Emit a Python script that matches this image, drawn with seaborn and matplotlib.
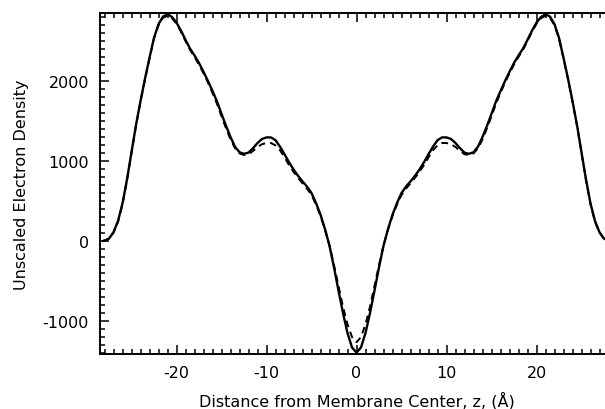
import matplotlib
matplotlib.use("Agg")
import matplotlib.pyplot as plt
import seaborn as sns
import pandas as pd
from matplotlib.ticker import MultipleLocator

# Distance from membrane center (Å)
z = [-28.2, -28.0, -27.5, -27.0, -26.5, -26.0, -25.5, -25.0, -24.5, -24.0,
     -23.5, -23.0, -22.5, -22.0, -21.5, -21.0, -20.5, -20.0, -19.5, -19.0,
     -18.5, -18.0, -17.5, -17.0, -16.5, -16.0, -15.5, -15.0, -14.5, -14.0,
     -13.5, -13.0, -12.5, -12.0, -11.5, -11.0, -10.5, -10.0, -9.5, -9.0,
     -8.5, -8.0, -7.5, -7.0, -6.5, -6.0, -5.5, -5.0, -4.5, -4.0,
     -3.5, -3.0, -2.5, -2.0, -1.5, -1.0, -0.5, 0.0,
     0.5, 1.0, 1.5, 2.0, 2.5, 3.0, 3.5,
     4.0, 4.5, 5.0, 5.5, 6.0, 6.5, 7.0, 7.5, 8.0, 8.5,
     9.0, 9.5, 10.0, 10.5, 11.0, 11.5, 12.0, 12.5, 13.0, 13.5,
     14.0, 14.5, 15.0, 15.5, 16.0, 16.5, 17.0, 17.5, 18.0, 18.5,
     19.0, 19.5, 20.0, 20.5, 21.0, 21.5, 22.0, 22.5, 23.0, 23.5,
     24.0, 24.5, 25.0, 25.5, 26.0, 26.5, 27.0, 27.5, 28.0, 28.2]

density_solid = [0, 5, 30, 110, 250, 470, 770, 1110, 1450, 1750,
                 2030, 2290, 2540, 2710, 2805, 2835, 2800, 2730, 2630, 2515,
                 2405, 2320, 2225, 2115, 2000, 1875, 1745, 1590, 1440, 1300,
                 1180, 1110, 1090, 1105, 1160, 1225, 1275, 1295, 1295, 1260,
                 1180, 1085, 985, 895, 815, 745, 680, 600, 475, 330,
                 150, -60, -330, -620, -900, -1150, -1330, -1395,
                 -1330, -1150, -900, -620, -330, -60, 150,
                 330, 475, 600, 680, 745, 815, 895, 985, 1085, 1180,
                 1260, 1295, 1295, 1275, 1225, 1160, 1105, 1090, 1110, 1180,
                 1300, 1440, 1590, 1745, 1875, 2000, 2115, 2225, 2320, 2405,
                 2515, 2630, 2730, 2800, 2835, 2805, 2710, 2540, 2290, 2030,
                 1750, 1450, 1110, 770, 470, 250, 110, 30, 5, 0]

density_dashed = [0, 5, 30, 105, 240, 460, 760, 1100, 1440, 1740,
                  2020, 2280, 2530, 2695, 2790, 2815, 2785, 2715, 2615, 2500,
                  2390, 2300, 2205, 2095, 1980, 1850, 1715, 1560, 1410, 1270,
                  1160, 1095, 1075, 1085, 1125, 1175, 1210, 1225, 1225, 1195,
                  1135, 1045, 950, 865, 790, 720, 655, 575, 455, 315,
                  140, -55, -300, -560, -820, -1040, -1200, -1265,
                  -1200, -1040, -820, -560, -300, -55, 140,
                  315, 455, 575, 655, 720, 790, 865, 950, 1045, 1135,
                  1195, 1225, 1225, 1210, 1175, 1125, 1085, 1075, 1095, 1160,
                  1270, 1410, 1560, 1715, 1850, 1980, 2095, 2205, 2300, 2390,
                  2500, 2615, 2715, 2785, 2815, 2790, 2695, 2530, 2280, 2020,
                  1740, 1440, 1100, 760, 460, 240, 105, 30, 5, 0]

x_ticks = [-20, -10, 0, 10, 20]
y_ticks = [-1000, 0, 1000, 2000]

sns.set_theme(style="ticks")
plt.rcParams["font.family"] = ["DejaVu Sans"]
plt.rcParams["axes.unicode_minus"] = False
plt.rcParams["text.color"] = "black"
plt.rcParams["axes.labelcolor"] = "black"

df = pd.DataFrame({"z": z, "solid": density_solid, "dashed": density_dashed})

fig = plt.figure(figsize=(6.05, 4.10), dpi=100)
ax = fig.add_axes([100 / 605, 55 / 410, 513 / 605, 341 / 410])

sns.lineplot(data=df, x="z", y="solid", ax=ax, color="black", linewidth=1.7,
             sort=False, estimator=None)
sns.lineplot(data=df, x="z", y="dashed", ax=ax, color="black", linewidth=1.4,
             linestyle=(0, (3.5, 2.5)), sort=False, estimator=None)

ax.set_xlim(-28.5, 28.5)
ax.set_ylim(-1412, 2850)
ax.set_xticks(x_ticks)
ax.set_yticks(y_ticks)
ax.set_xticklabels([str(v) for v in x_ticks])
ax.set_yticklabels([str(v) for v in y_ticks])
ax.xaxis.set_minor_locator(MultipleLocator(1))
ax.yaxis.set_minor_locator(MultipleLocator(100))

ax.tick_params(which="both", direction="in", top=True, right=False,
               bottom=True, left=True, colors="black", labelcolor="black",
               labelsize=11.5, width=1.1)
ax.tick_params(which="major", length=6.5, pad=8)
ax.tick_params(which="minor", length=3.5)
for s in ax.spines.values():
    s.set_linewidth(1.4)
    s.set_color("black")

ax.set_xlabel("Distance from Membrane Center, z, (Å)", fontsize=11.5,
              labelpad=8, color="black")
ax.set_ylabel("Unscaled Electron Density", fontsize=11.5, labelpad=10,
              color="black")

fig.savefig("out.png", dpi=100)
